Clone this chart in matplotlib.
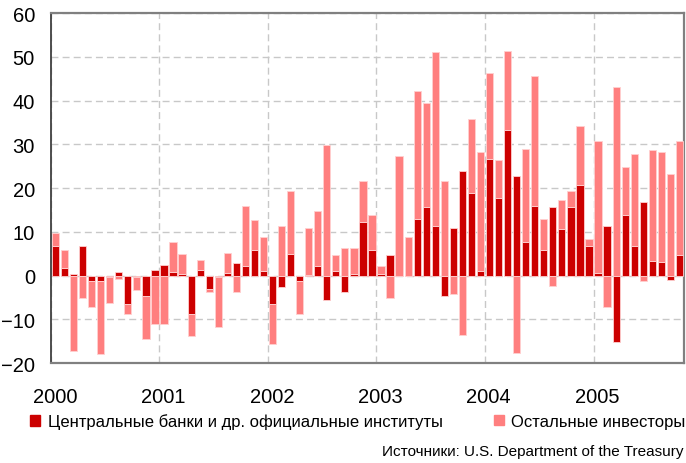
import numpy as np
import matplotlib.pyplot as plt
from matplotlib.patches import Patch

# monthly net purchases, Jan 2000 .. Oct 2005 (bn USD)
central = [6.7, 1.8, 0.3, 6.7, -1.3, -1.3, -0.4, 0.9, -6.4, -0.4, -4.7, 1.2,
           2.4, 0.8, 0.4, -8.9, 1.2, -3.0, -0.4, 0.5, 2.9, 2.2, 5.9, 1.0,
           -6.4, -2.6, 5.0, -1.3, 0.2, 2.1, -5.5, 1.0, -3.7, 0.4, 12.3, 5.9,
           0.4, 4.6, 0.0, 0.0, 13.0, 15.6, 11.3, -4.6, 10.9, 24.0, 18.9, 1.0,
           26.6, 17.7, 33.3, 22.7, 7.6, 16.0, 5.9, 15.6, 10.6, 15.6, 20.6, 6.7,
           0.6, 11.3, -15.1, 13.9, 6.7, 16.8, 3.4, 3.0, -1.0, 4.6]
others = [3.0, 4.0, -17.3, -5.1, -5.8, -16.7, -5.9, -0.8, -2.4, -2.9, -9.7, -11.0,
          -11.0, 6.8, 4.6, -5.0, 2.3, -0.8, -11.4, 4.6, -3.7, 13.8, 6.7, 7.7,
          -9.2, 11.3, 14.3, -7.5, 10.7, 12.6, 29.9, 3.6, 6.3, 5.9, 9.2, 8.0,
          1.7, -5.1, 27.3, 8.8, 29.1, 23.9, 39.8, 21.5, -4.2, -13.5, 16.9, 27.2,
          19.7, 8.8, 18.1, -17.7, 21.4, 29.5, 7.1, -2.5, 6.6, 3.7, 13.6, 1.7,
          30.1, -7.1, 43.0, 10.9, 21.1, -1.3, 25.2, 25.2, 23.1, 26.1]
years = ["2000", "2001", "2002", "2003", "2004", "2005"]
labels = ["Центральные банки и др. официальные институты", "Остальные инвесторы"]

dark = "#cc0000"
pink = "#ff7f7f"

plt.rcParams["font.family"] = ["Liberation Sans", "DejaVu Sans"]

c = np.array(central)
o = np.array(others)
x = np.arange(len(c)) + 0.5

fig = plt.figure(figsize=(6.86, 4.64), dpi=100)
ax = fig.add_axes([0.0743, 0.2155, 0.9227, 0.7543])

# excel-style stacking: positives pile up, negatives pile down
c_pos, c_neg = np.clip(c, 0, None), np.clip(c, None, 0)
o_bot = np.where(o >= 0, c_pos, c_neg)
kw = dict(width=0.8, edgecolor="#ffd0d0", linewidth=0.6, zorder=3)
ax.bar(x, c, color=dark, **kw)
ax.bar(x, o, bottom=o_bot, color=pink, **kw)

ax.set_xlim(0, len(c))
ax.set_ylim(-20, 60)
ax.set_yticks(np.arange(-20, 61, 10))
ax.set_xticks(np.arange(0, len(c), 12))
ax.set_xticklabels([])
ax.set_xticks(np.arange(0, len(c), 12) + 0.42, minor=True)
ax.set_xticklabels(years, minor=True)
ax.tick_params(axis="both", which="both", length=0, labelsize=14.5)
ax.tick_params(axis="x", which="minor", pad=17)
ax.tick_params(axis="y", pad=11.5)
ax.grid(True, which="major", color="#c8c8c8", linestyle=(0, (5, 3)), linewidth=1, zorder=0)
for s in ax.spines.values():
    s.set_color("#808080")
    s.set_linewidth(1.6)
ax.spines["left"].set_color("#404040")
ax.spines["left"].set_linewidth(1.3)

handles = [Patch(color=dark), Patch(color=pink)]
lkw = dict(frameon=False, fontsize=12, handlelength=0.6, handleheight=0.6,
           handletextpad=0.45)
fig.legend(handles[:1], labels[:1], loc="center left", bbox_to_anchor=(0.022, 0.09), **lkw)
fig.legend(handles[1:], labels[1:], loc="center right", bbox_to_anchor=(1.021, 0.09), **lkw)
fig.text(0.997, 0.025, "Источники: U.S. Department of the Treasury", ha="right", va="center",
         fontsize=11)

fig.savefig("out.png", dpi=100)
